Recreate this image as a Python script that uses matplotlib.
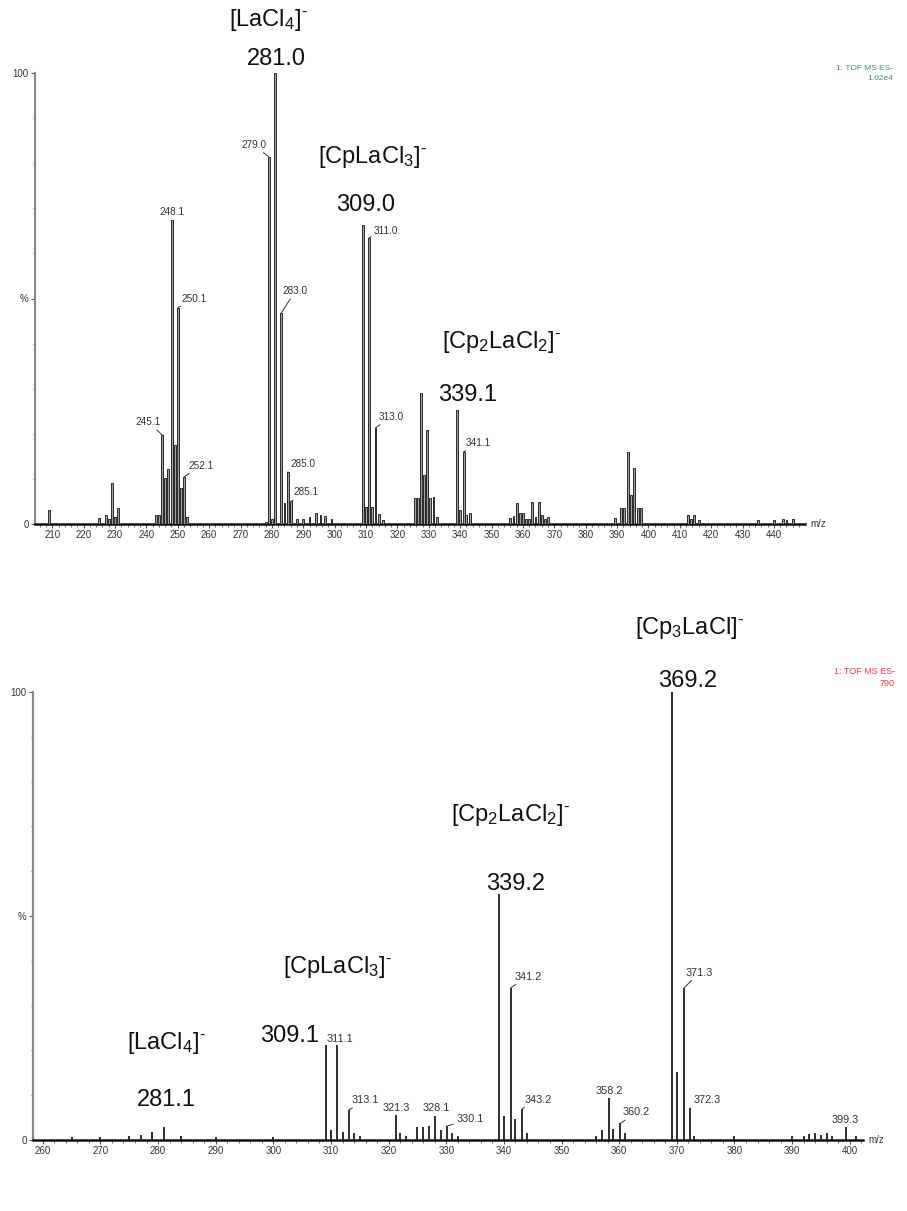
import matplotlib
matplotlib.use('Agg')
import matplotlib.pyplot as plt
from matplotlib.ticker import MultipleLocator, FixedLocator, FixedFormatter

plt.rcParams['font.family'] = ['Liberation Sans', 'DejaVu Sans']
plt.rcParams['mathtext.fontset'] = 'custom'
plt.rcParams['mathtext.rm'] = 'Liberation Sans'
plt.rcParams['mathtext.it'] = 'Liberation Sans:italic'
plt.rcParams['mathtext.bf'] = 'Liberation Sans:bold'

# ---------------- data: top spectrum ----------------
top_mz = [209, 225, 227, 228, 229, 230, 231,
          243, 244, 245.1, 246, 247, 248.1, 249, 250.1, 251, 252.1, 253,
          278, 279.0, 280, 281.0, 283.0, 284, 285.0, 286.1, 288, 290, 292, 294, 295.5, 297, 299,
          309.0, 310, 311.0, 312, 313.0, 314, 315.5,
          325.5, 326.5, 327.5, 328.5, 329.5, 330.5, 331.5, 332.5,
          339.1, 340, 341.1, 342, 343,
          356, 357, 358, 359, 360, 361, 362, 363, 364, 365, 366, 367, 368,
          389.3, 391.2, 392.2, 393.4, 394.4, 395.5, 396.6, 397.6,
          412.5, 413.5, 414.5, 416, 435, 440, 443, 444, 446]
top_int = [3.1, 1.3, 2.0, 1.0, 9.1, 1.5, 3.5,
           2.0, 2.0, 19.7, 10.2, 12.2, 67.4, 17.5, 48.0, 8.0, 10.5, 1.5,
           0.5, 81.4, 1.0, 100.0, 46.8, 4.7, 11.5, 5.0, 1.2, 1.0, 1.5, 2.4, 2.0, 1.7, 1.0,
           66.3, 3.8, 63.5, 3.8, 21.3, 2.2, 0.8,
           5.8, 5.8, 29.0, 10.9, 20.8, 5.8, 6.0, 1.5,
           25.3, 3.1, 16.0, 2.0, 2.4,
           1.3, 1.8, 4.7, 2.4, 2.4, 1.0, 1.0, 4.9, 1.5, 4.9, 2.0, 1.0, 1.5,
           1.3, 3.5, 3.5, 16.0, 6.4, 12.4, 3.5, 3.5,
           2.0, 1.0, 2.0, 0.8, 0.8, 0.8, 1.1, 0.8, 1.0]
top_lab_mz = [279.0, 248.1, 250.1, 245.1, 252.1, 283.0, 285.0, 286.1, 311.0, 313.0, 341.1]
top_lab_txt = ['279.0', '248.1', '250.1', '245.1', '252.1', '283.0', '285.0', '285.1',
               '311.0', '313.0', '341.1']
top_ion_txt = [r'[LaCl$_4$]$^{\text{-}}$', '281.0', r'[CpLaCl$_3$]$^{\text{-}}$', '309.0',
               r'[Cp$_2$LaCl$_2$]$^{\text{-}}$', '339.1']
top_xticks = [210, 220, 230, 240, 250, 260, 270, 280, 290, 300, 310, 320, 330, 340,
              350, 360, 370, 380, 390, 400, 410, 420, 430, 440]

# ---------------- data: bottom spectrum ----------------
bot_mz = [265, 270, 275, 277, 279, 281.1, 284, 290, 300,
          309.1, 310, 311.1, 312, 313.1, 314, 315,
          321.3, 322, 323, 325, 326, 327, 328.1, 329, 330.1, 331, 332,
          339.2, 340, 341.2, 342, 343.2, 344,
          356, 357, 358.2, 359, 360.2, 361,
          369.2, 370, 371.3, 372.3, 373, 380, 390, 392, 393, 394, 395, 396, 397, 399.3, 401]
bot_int = [0.6, 0.6, 0.8, 1.2, 1.8, 2.9, 0.8, 0.6, 0.7,
           21.2, 2.2, 21.2, 1.8, 6.7, 1.5, 1.0,
           5.6, 1.5, 0.8, 2.9, 2.9, 3.1, 5.4, 2.2, 3.1, 1.5, 1.0,
           55.0, 5.4, 34.0, 4.6, 7.0, 1.5,
           1.0, 2.2, 9.4, 2.4, 3.7, 1.5,
           100.0, 15.2, 34.0, 7.1, 1.0, 0.8, 0.8, 1.0, 1.3, 1.5, 1.2, 1.5, 1.0, 2.9, 0.8]
bot_lab_mz = [311.1, 313.1, 321.3, 328.1, 330.1, 341.2, 343.2, 358.2, 360.2, 371.3, 372.3, 399.3]
bot_lab_txt = ['311.1', '313.1', '321.3', '328.1', '330.1', '341.2', '343.2', '358.2',
               '360.2', '371.3', '372.3', '399.3']
bot_ion_txt = [r'[Cp$_3$LaCl]$^{\text{-}}$', '369.2', r'[Cp$_2$LaCl$_2$]$^{\text{-}}$', '339.2',
               r'[CpLaCl$_3$]$^{\text{-}}$', '309.1', r'[LaCl$_4$]$^{\text{-}}$', '281.1']
bot_xticks = [260, 270, 280, 290, 300, 310, 320, 330, 340, 350, 360, 370, 380, 390, 400]

# ---------------- layout / style (not data) ----------------
top_lab_off = [(-15, 12), (0, 8), (16, 9), (-14, 13), (17, 11), (14, 22), (15, 8), (15, 9),
               (17, 7), (16, 11), (15, 9)]
top_ion_pos = [(278.8, 111.8), (281.3, 103.1), (311.9, 81.4), (309.7, 70.7),
               (353.3, 40.4), (342.5, 28.6)]
bot_lab_off = [(3, 6), (16, 10), (0, 7), (1, 8), (23, 7), (17, 11), (16, 9), (0, 7),
               (16, 11), (15, 15), (17, 8), (0, 7)]
bot_ion_pos = [(372.2, 114.3), (371.9, 102.5), (341.2, 72.5), (342.1, 57.1),
               (311.2, 38.6), (302.9, 23.2), (281.5, 21.7), (281.5, 8.9)]

W, H = 907, 1211
fig = plt.figure(figsize=(W / 100, H / 100), dpi=100)
ax1 = fig.add_axes([35 / W, 1 - 524 / H, 770 / W, 451 / H])
ax2 = fig.add_axes([33 / W, 1 - 1140 / H, 830 / W, 448 / H])


def style_axis(ax, xlim, xticks):
    ax.set_xlim(*xlim)
    ax.set_ylim(0, 100)
    for s in ['top', 'right']:
        ax.spines[s].set_visible(False)
    ax.spines['left'].set_color('#8a8a8a')
    ax.spines['left'].set_linewidth(1.6)
    ax.spines['bottom'].set_color('#111111')
    ax.spines['bottom'].set_linewidth(1.8)
    ax.xaxis.set_major_locator(FixedLocator(xticks))
    ax.xaxis.set_major_formatter(FixedFormatter([str(t) for t in xticks]))
    ax.xaxis.set_minor_locator(MultipleLocator(2))
    ax.yaxis.set_major_locator(FixedLocator([0, 50, 100]))
    ax.yaxis.set_major_formatter(FixedFormatter(['0', '%', '100']))
    ax.yaxis.set_minor_locator(MultipleLocator(10))
    ax.tick_params(axis='both', which='major', labelsize=7, colors='#555555',
                   labelcolor='#333333', length=3, width=0.8, pad=1.5)
    ax.tick_params(axis='both', which='minor', colors='#555555', length=1.8, width=0.6)
    ax.annotate('m/z', xy=(1, 0), xycoords='axes fraction', xytext=(5, 0),
                textcoords='offset pixels', ha='left', va='center', fontsize=7,
                color='#333333')


style_axis(ax1, (204.5, 449.9), top_xticks)
style_axis(ax2, (258.3, 402.3), bot_xticks)

# peaks
ax1.bar(top_mz, top_int, width=0.6, color='#a0a0a0', edgecolor='#2a2a2a',
        linewidth=0.7, zorder=3)
ax2.vlines(bot_mz, 0, bot_int, colors='#1e1e1e', linewidth=1.3, zorder=3)


def label_peaks(ax, mzs, ints, lab_mz, lab_txt, offs, fs):
    lookup = dict(zip(mzs, ints))
    for m, t, (dx, dy) in zip(lab_mz, lab_txt, offs):
        y = lookup[m]
        props = None
        if abs(dx) > 4:
            props = dict(arrowstyle='-', color='#333333', lw=0.7, shrinkA=0, shrinkB=0)
        ax.annotate(t, xy=(m, y), xytext=(dx, dy), textcoords='offset pixels',
                    ha='center', va='center', fontsize=fs, color='#333333',
                    arrowprops=props, annotation_clip=False, zorder=4)


label_peaks(ax1, top_mz, top_int, top_lab_mz, top_lab_txt, top_lab_off, 7.2)
label_peaks(ax2, bot_mz, bot_int, bot_lab_mz, bot_lab_txt, bot_lab_off, 7.8)

for t, (x, y) in zip(top_ion_txt, top_ion_pos):
    ax1.text(x, y, t, ha='center', va='center', fontsize=17, color='#111111',
             clip_on=False)
for t, (x, y) in zip(bot_ion_txt, bot_ion_pos):
    ax2.text(x, y, t, ha='center', va='center', fontsize=17, color='#111111',
             clip_on=False)

# header text
fig.text(893 / W, 1 - 68 / H, '1: TOF MS ES-', ha='right', va='center', fontsize=6,
         color='#3a8f7c')
fig.text(893 / W, 1 - 79 / H, '1.02e4', ha='right', va='center', fontsize=6,
         color='#3a8f7c')
fig.text(895 / W, 1 - 672 / H, '1: TOF MS ES-', ha='right', va='center', fontsize=6.5,
         color='#ee4040')
fig.text(895 / W, 1 - 684 / H, '790', ha='right', va='center', fontsize=6.5,
         color='#ee4040')

fig.savefig('out.png', dpi=100)
